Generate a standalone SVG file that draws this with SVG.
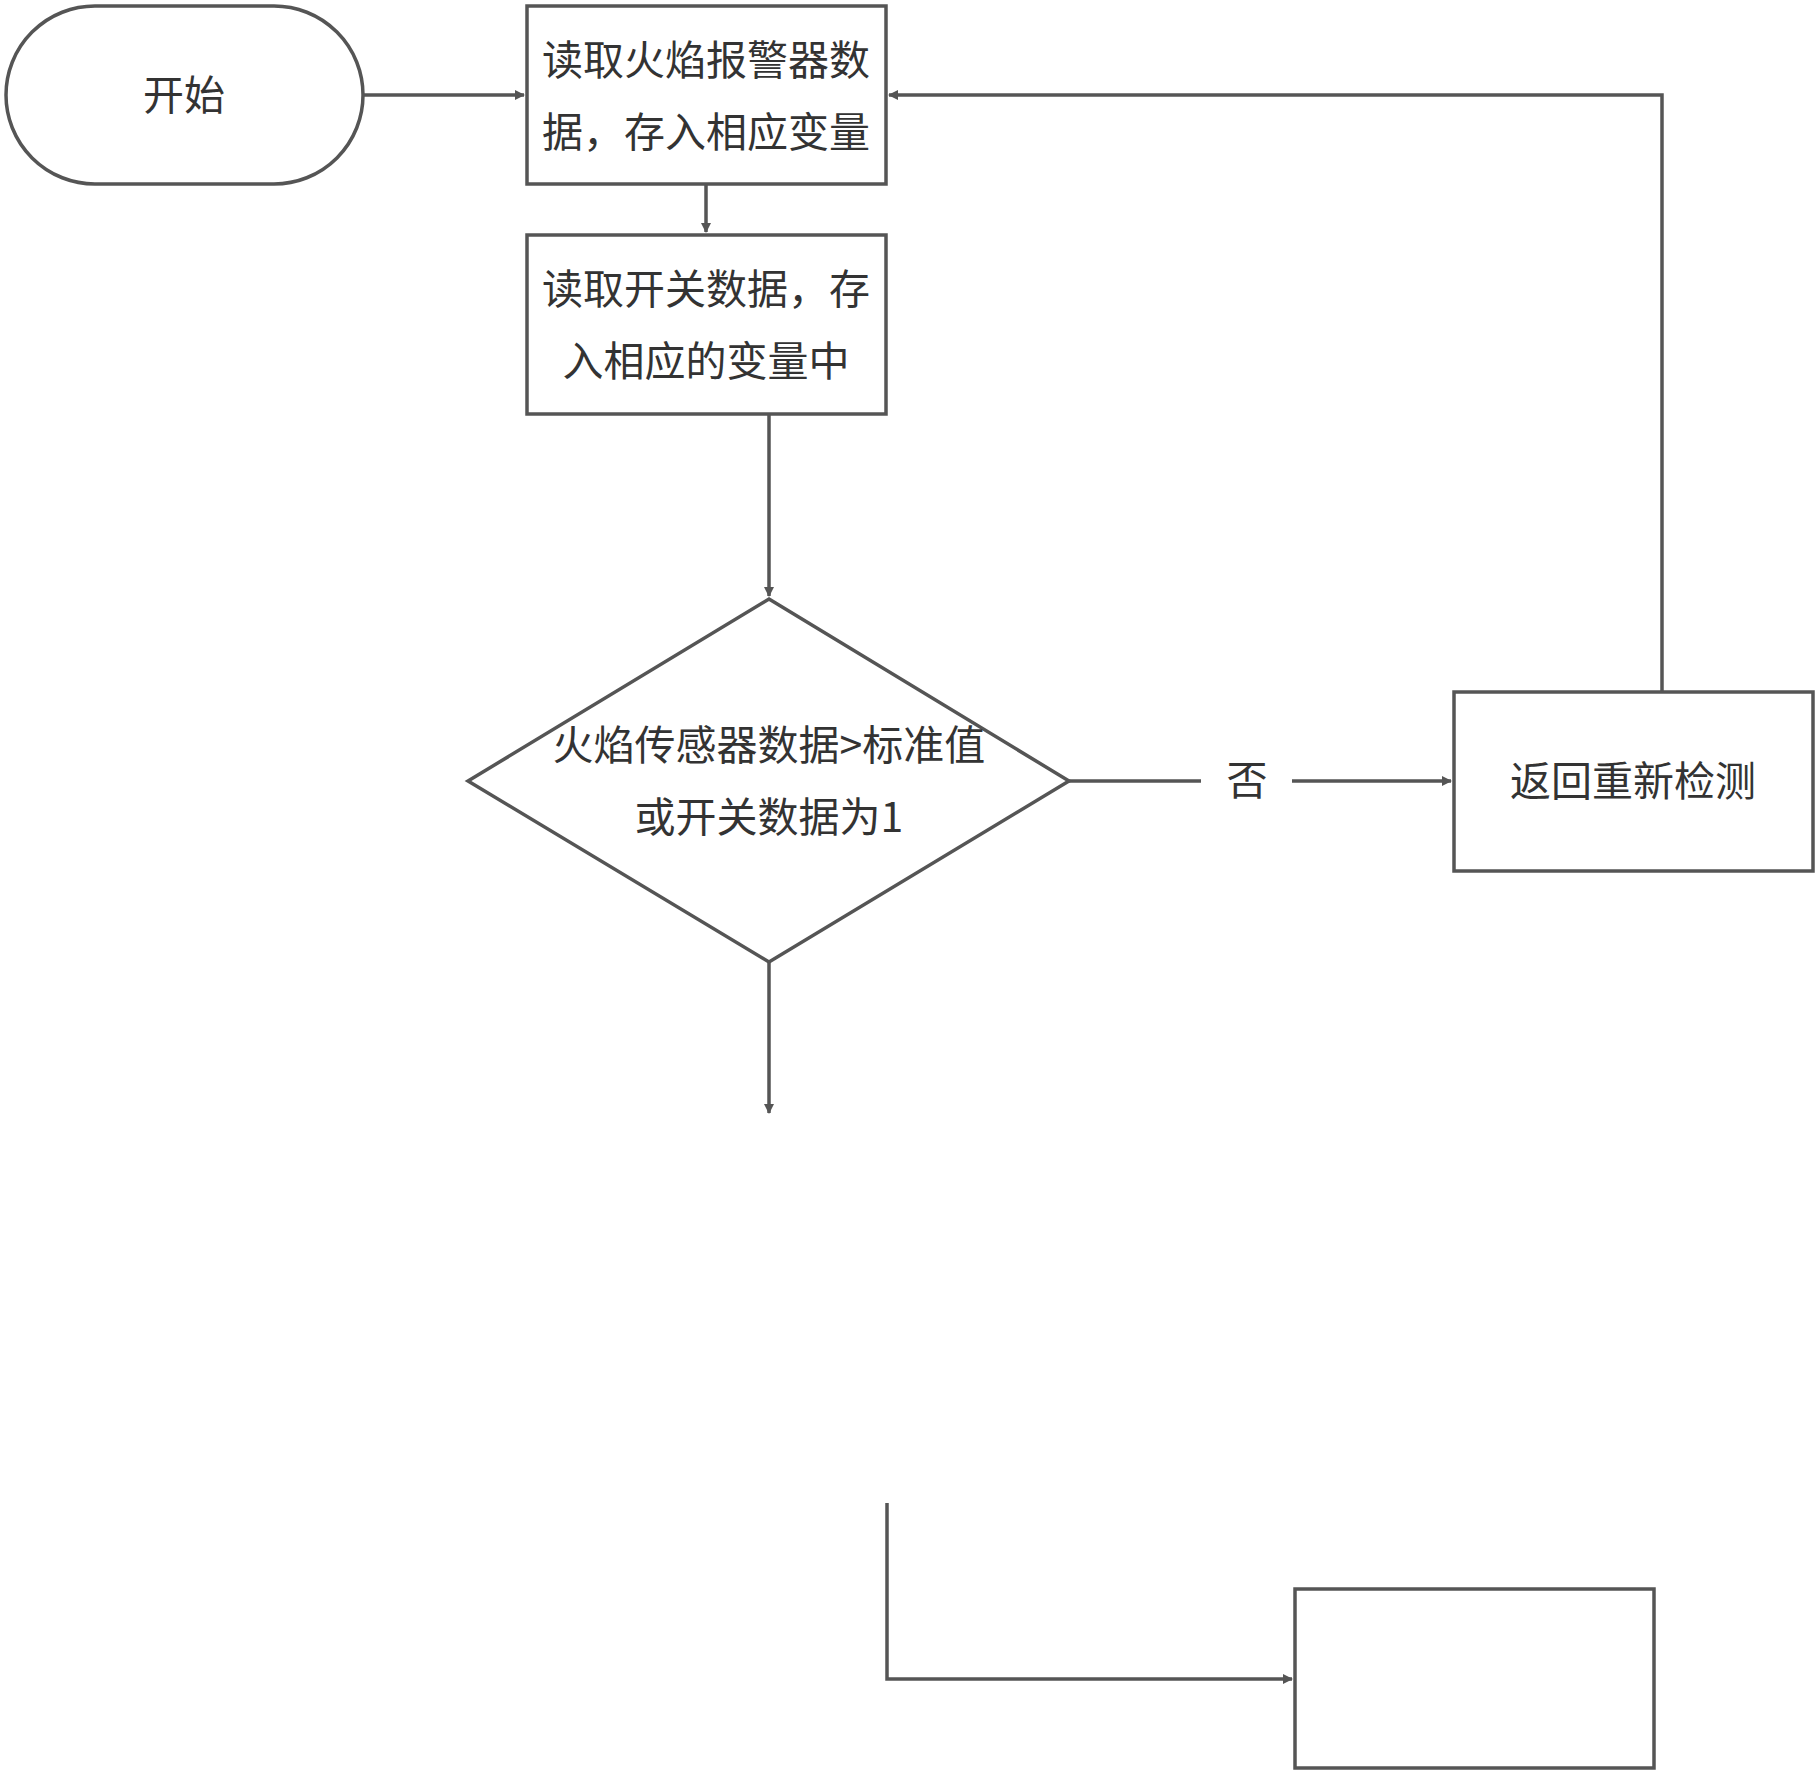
<svg xmlns="http://www.w3.org/2000/svg" width="1818" height="1774" viewBox="0 0 1818 1774">
<defs>
<style>
.s{fill:#fff;stroke:#555;stroke-width:3.5}
.c{fill:none;stroke:#555;stroke-width:3.5}
text{font-family:"Noto Sans CJK SC",sans-serif;font-size:41px;fill:#333;text-anchor:middle}
</style>
<marker id="a" markerWidth="10" markerHeight="10" refX="9" refY="5" orient="auto" markerUnits="userSpaceOnUse" viewBox="0 0 10 10"><path d="M0,0L10,5L0,10z" fill="#555"/></marker>
</defs>
<rect width="1818" height="1774" fill="#fff"/>
<g id="connectors">
<path class="c" d="M363,95H524" marker-end="url(#a)" style="marker-end:url(#a)"/>
<path class="c" d="M706,184V232" marker-end="url(#a)"/>
<path class="c" d="M769,414V596" marker-end="url(#a)"/>
<path class="c" d="M769,962V1113" marker-end="url(#a)"/>
<path class="c" d="M1069,781H1201"/>
<path class="c" d="M1292,781H1451" marker-end="url(#a)"/>
<path class="c" d="M1662,692V95H889" marker-end="url(#a)"/>
<path class="c" d="M887,1503V1679H1292" marker-end="url(#a)"/>
<text x="1247" y="795">否</text>
</g>
<g id="start"><rect class="s" x="6" y="6" width="357" height="178" rx="89"/><text x="184" y="110">开始</text></g>
<g id="read1"><rect class="s" x="527" y="6" width="359" height="178"/><text x="706" y="75">读取火焰报警器数</text><text x="706" y="147">据，存入相应变量</text></g>
<g id="read2"><rect class="s" x="527" y="235" width="359" height="179"/><text x="706" y="304">读取开关数据，存</text><text x="706" y="376">入相应的变量中</text></g>
<g id="decision"><path class="s" d="M769,599L1069,781L769,962L468,781z"/><text x="769" y="760">火焰传感器数据&gt;标准值</text><text x="769" y="832">或开关数据为1</text></g>
<g id="retry"><rect class="s" x="1454" y="692" width="359" height="179"/><text x="1633" y="796">返回重新检测</text></g>
<g id="end"><rect class="s" x="1295" y="1589" width="359" height="179"/></g>
</svg>
